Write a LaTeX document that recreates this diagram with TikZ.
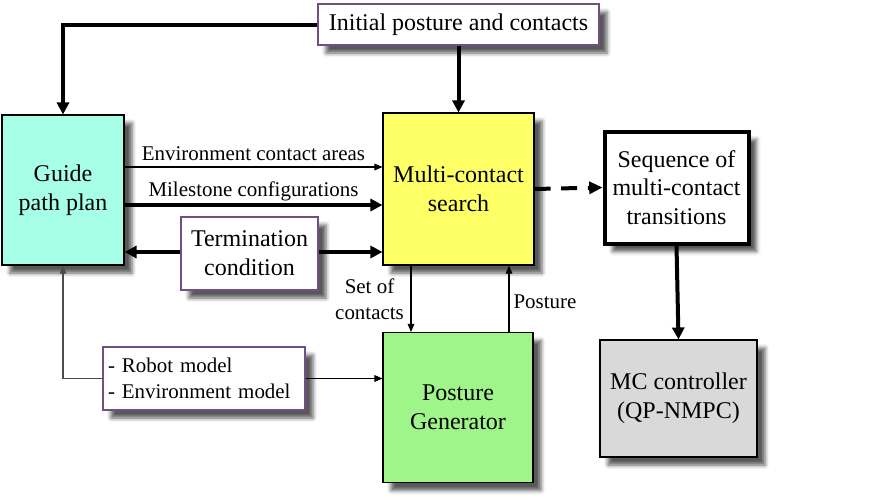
\documentclass[tikz,border=0pt]{standalone}
\usepackage{fontspec}
\setmainfont{Liberation Serif}
\usetikzlibrary{arrows.meta,shadows,shadows.blur}
\definecolor{guidec}{RGB}{166,255,230}
\definecolor{multic}{RGB}{255,255,102}
\definecolor{posec}{RGB}{160,245,138}
\definecolor{mcc}{RGB}{217,217,217}
\definecolor{purp}{RGB}{112,80,130}
\tikzset{
  bigtext/.style={font=\rmfamily\fontsize{18}{21.5}\selectfont, align=center},
  smalltext/.style={font=\rmfamily\fontsize{15.7}{19.5}\selectfont},
  shad/.style={blur shadow={shadow xshift=6pt, shadow yshift=-6pt, shadow blur radius=3pt, shadow opacity=65}},
  block/.style={draw=black, line width=0.8pt, inner sep=0pt, bigtext, shad},
  pbox/.style={draw=purp, line width=0.8pt, fill=white, inner sep=0pt, shad},
  thick arr/.style={line width=3pt, -{Triangle[length=9pt,width=9pt]}},
  thin arr/.style={line width=0.8pt, -{Triangle[length=6pt,width=5pt]}},
}
\begin{document}
\begin{tikzpicture}[x=0.75pt,y=-0.75pt]
\useasboundingbox (0,0) rectangle (884,500);
% nodes
\node[pbox, bigtext, minimum width=281*0.75pt, minimum height=41*0.75pt] (init) at (458.5,24.5) {Initial posture and contacts};
\node[block, fill=guidec, minimum width=122*0.75pt, minimum height=150*0.75pt] (guide) at (63,190) {Guide\\path plan};
\node[block, fill=multic, minimum width=151*0.75pt, minimum height=152*0.75pt] (multi) at (458.5,189) {Multi-contact\\search};
\node[pbox, bigtext, minimum width=137*0.75pt, minimum height=73*0.75pt] (term) at (249.5,253.5) {Termination\\condition};
\node[block, fill=white, line width=3pt, minimum width=144*0.75pt, minimum height=112*0.75pt] (seq) at (676.5,187.5) {Sequence of\\multi-contact\\transitions};
\node[block, fill=mcc, minimum width=157*0.75pt, minimum height=117*0.75pt] (mc) at (678.5,398.5) {MC controller\\(QP-NMPC)};
\node[pbox, smalltext, align=left, minimum width=202*0.75pt, minimum height=63*0.75pt, text width=192*0.75pt] (robot) at (204,378.5) {- Robot model\\- Environment model};
\node[block, fill=posec, minimum width=150*0.75pt, minimum height=150*0.75pt] (pose) at (458,407.5) {Posture\\Generator};
% helper coordinates
\coordinate (yenv) at (0,167);
\coordinate (ymil) at (0,205);
\coordinate (yterm) at (0,252);
\coordinate (xset) at (411,0);
\coordinate (xpos) at (509,0);
% connectors
\draw[thick arr] (init.west) -| (guide.north);
\draw[thick arr] (init.south) -- (multi.north);
\draw[thin arr] (guide.east |- yenv) -- node[smalltext, above, inner sep=4pt] (lenv) {Environment contact areas} (multi.west |- yenv);
\draw[thick arr] (guide.east |- ymil) -- node[smalltext, above, inner sep=5pt, text depth=0pt] (lmil) {Milestone configurations} (multi.west |- ymil);
\draw[thick arr] (term.west |- yterm) -- (guide.east |- yterm);
\draw[thick arr] (term.east |- yterm) -- (multi.west |- yterm);
\draw[line width=3pt, dash pattern=on 12pt off 8pt, -{Triangle[length=10pt,width=9pt]}] (multi.east) -- (seq.west);
\draw[thick arr] (seq.south) -- (mc.north);
\draw[thin arr] (multi.south -| xset) -- node[smalltext, left, align=center, inner sep=5pt] (lset) {Set of\\contacts} (pose.north -| xset);
\draw[thin arr] (pose.north -| xpos) -- node[smalltext, right, inner sep=3pt, yshift=-2pt] (lpos) {Posture} (multi.south -| xpos);
\draw[thin arr, draw=black!70] (robot.west) -| (guide.south);
\draw[thin arr] (robot.east) -- (pose.west |- robot.east);
\end{tikzpicture}
\end{document}
